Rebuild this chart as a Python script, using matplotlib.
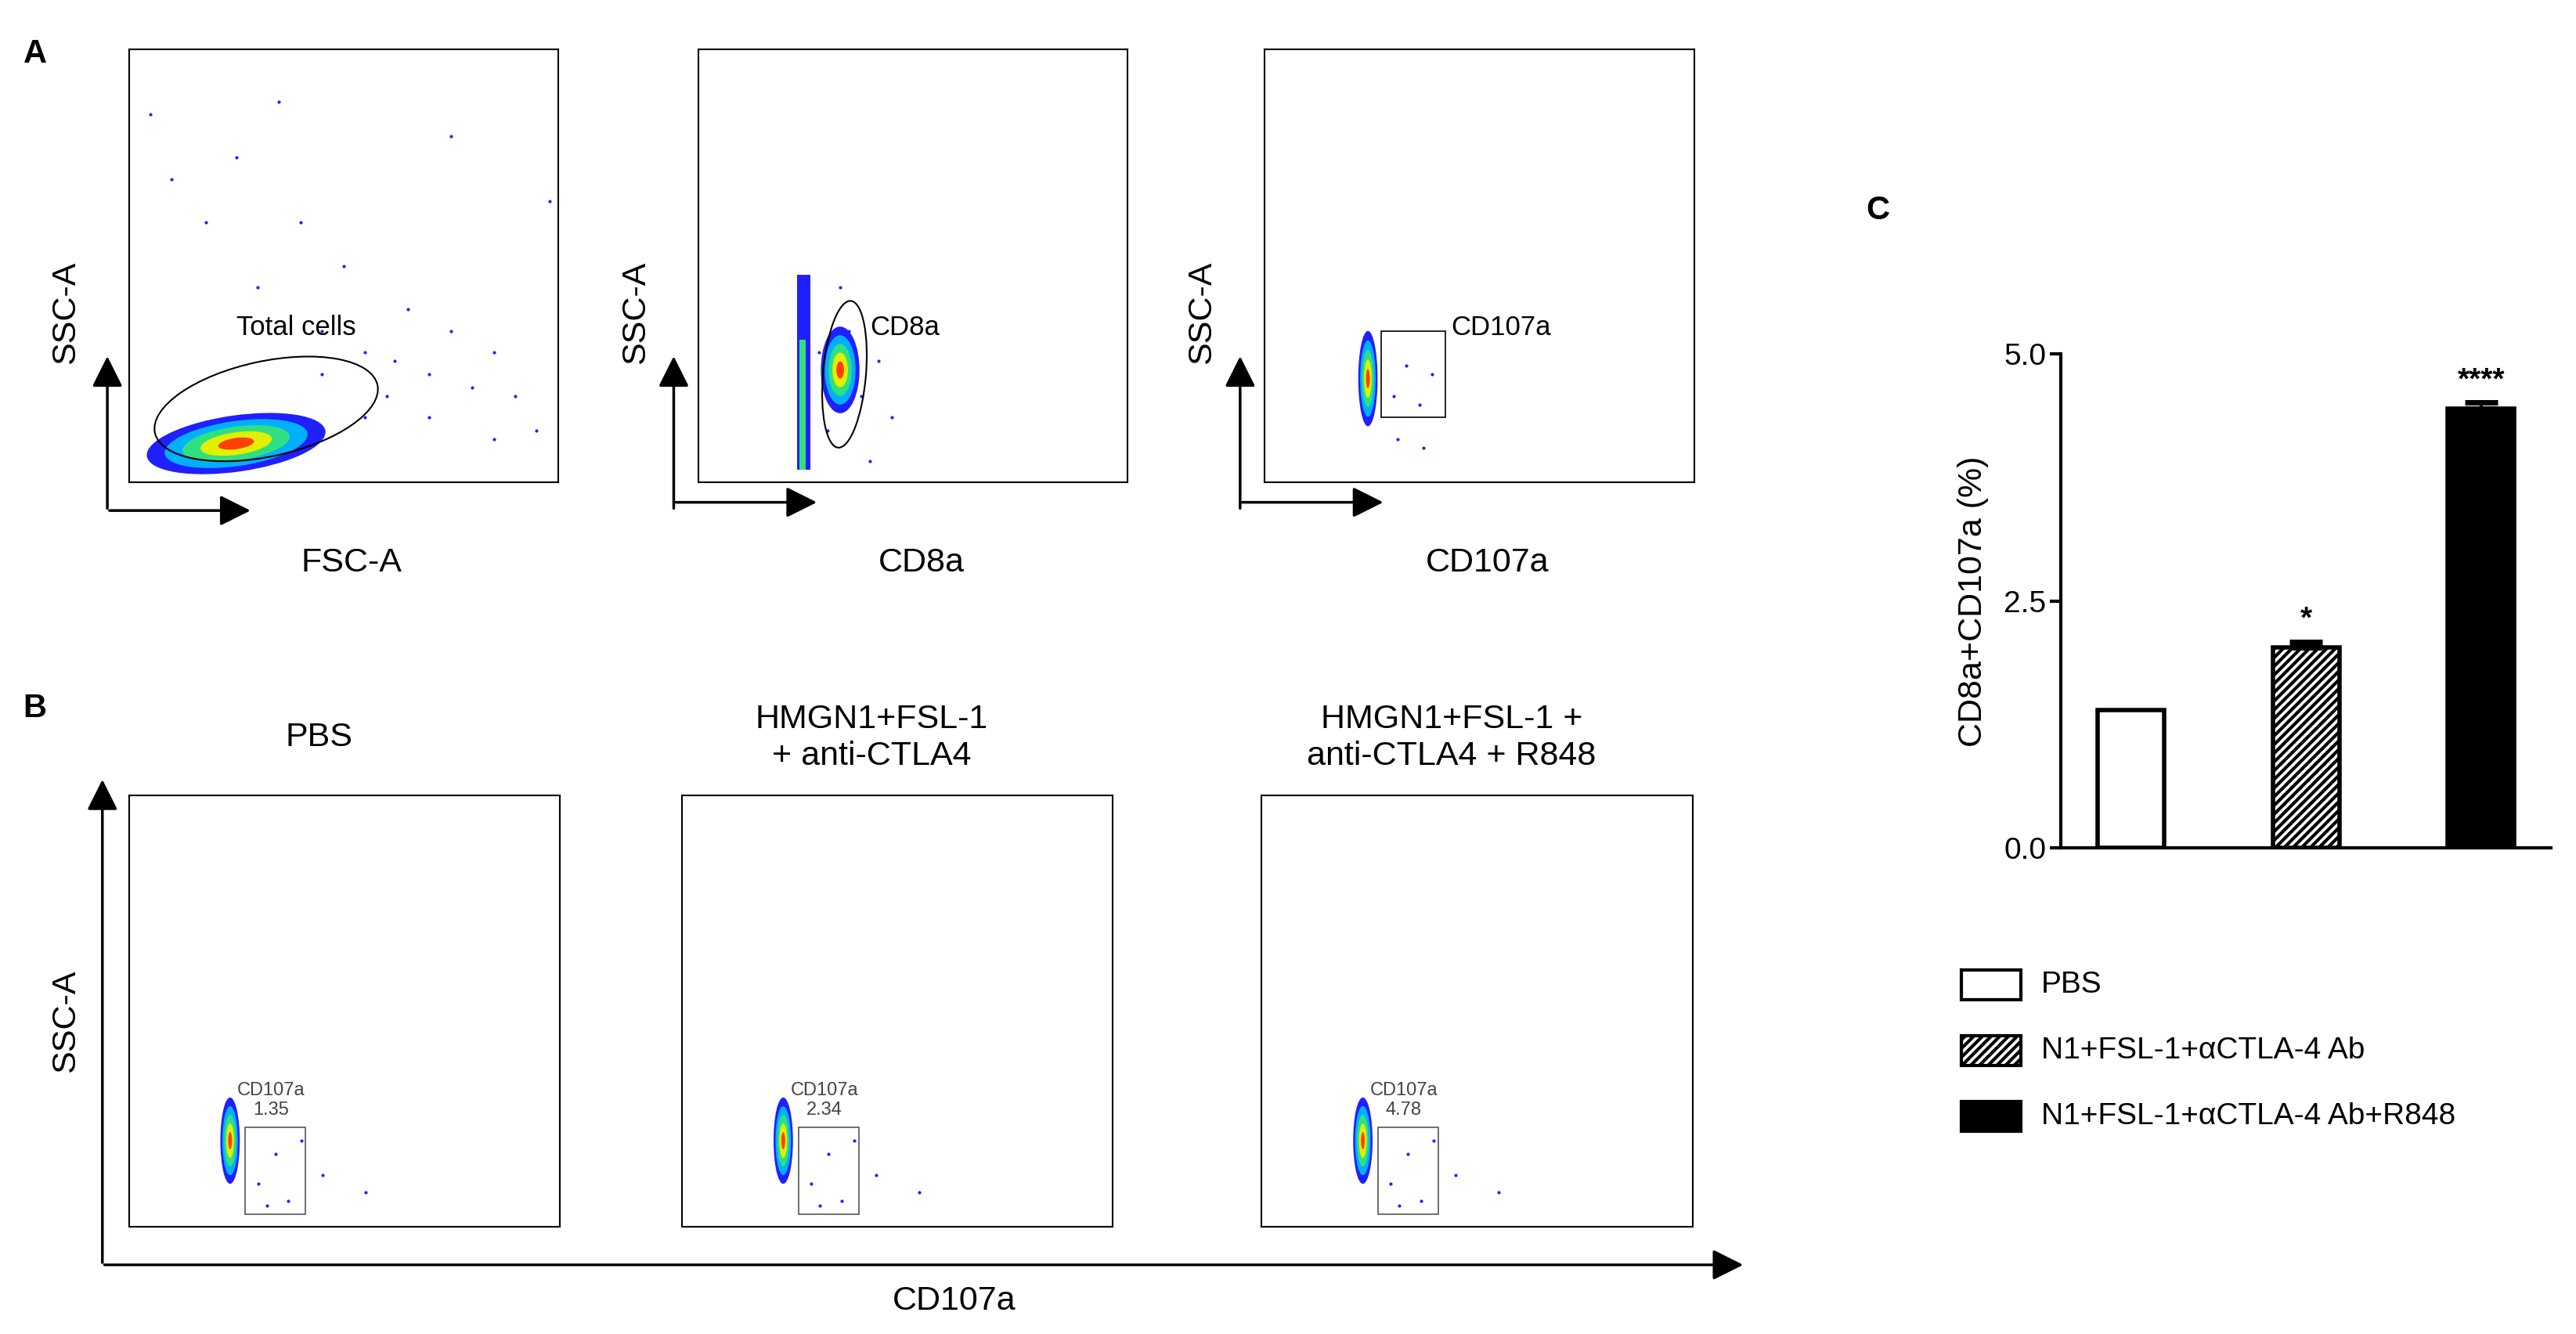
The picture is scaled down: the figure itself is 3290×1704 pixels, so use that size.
import matplotlib
matplotlib.use("Agg")
import matplotlib.pyplot as plt
from matplotlib.patches import Ellipse, Rectangle

plt.rcParams['font.family'] = ['Liberation Sans', 'DejaVu Sans']
plt.rcParams['hatch.linewidth'] = 3

# ---- data ----
groups = ["PBS", "N1+FSL-1+\u03b1CTLA-4 Ab", "N1+FSL-1+\u03b1CTLA-4 Ab+R848"]
values = [1.40, 2.03, 4.45]
errors = [0.0, 0.06, 0.06]
stars = ["", "*", "****"]
b_titles = ["PBS", "HMGN1+FSL-1\n+ anti-CTLA4", "HMGN1+FSL-1 +\nanti-CTLA4 + R848"]
b_pcts = ["1.35", "2.34", "4.78"]
a_xlabels = ["FSC-A", "CD8a", "CD107a"]
a_gates = ["Total cells", "CD8a", "CD107a"]
# sparse events (x, y) in axis fraction, read approximately
a1_events = [(0.05,0.85),(0.1,0.7),(0.18,0.6),(0.3,0.45),(0.45,0.35),(0.55,0.3),(0.62,0.28),(0.7,0.25),(0.8,0.22),(0.9,0.2),(0.95,0.12),(0.5,0.5),(0.65,0.4),(0.75,0.35),(0.85,0.3),(0.4,0.6),(0.25,0.75),(0.35,0.88),(0.75,0.8),(0.98,0.65),(0.6,0.2),(0.7,0.15),(0.85,0.1),(0.45,0.25),(0.55,0.15)]
a2_events = [(0.35,0.35),(0.38,0.2),(0.3,0.12),(0.4,0.05),(0.28,0.3),(0.42,0.28),(0.33,0.45),(0.45,0.15)]
gate_events = [(0.3,0.2),(0.33,0.27),(0.36,0.18),(0.39,0.25),(0.31,0.1),(0.37,0.08)]
b_events = [(0.3,0.1),(0.34,0.17),(0.37,0.06),(0.4,0.2),(0.45,0.12),(0.55,0.08),(0.32,0.05)]
heat = ['#2020ff', '#00b0ff', '#30e080', '#e0f000', '#ff4000']

W, H = 3290, 1704
fig = plt.figure(figsize=(W/100, H/100), dpi=100)

def blob(ax, cx, cy, w, h, ang=0):
    for i, c in enumerate(heat):
        f = 1 - i*0.2
        ax.add_patch(Ellipse((cx, cy), w*f, h*f, angle=ang, color=c, lw=0, zorder=2))

def flow_ax(l, t, r, b):
    ax = fig.add_axes([l/1560, 1-b/810, (r-l)/1560, (b-t)/810])
    ax.set_xlim(0, 1); ax.set_ylim(0, 1)
    ax.set_xticks([]); ax.set_yticks([])
    for s in ax.spines.values():
        s.set_linewidth(1.5)
    return ax

def arrow(x0, y0, x1, y1):
    fig.add_artist(matplotlib.patches.FancyArrowPatch((x0/1560, 1-y0/810), (x1/1560, 1-y1/810),
                   transform=fig.transFigure, arrowstyle='-|>,head_length=1.2,head_width=0.6', lw=2.5, color='black', mutation_scale=20))

LF = 31
# Panel A
lefts = [78, 423, 766]
for i, l in enumerate(lefts):
    ax = flow_ax(l, 30, l+260, 293)
    ex, ey = zip(*(a1_events if i == 0 else (a2_events if i == 1 else gate_events)))
    ax.scatter(ex, ey, s=4, color='#2020ff', zorder=1)
    if i == 0:
        blob(ax, 0.25, 0.09, 0.42, 0.13, 8)
        ax.add_patch(Ellipse((0.32, 0.17), 0.53, 0.22, angle=12, fill=False, lw=1.5, zorder=3))
        ax.text(0.39, 0.34, a_gates[i], fontsize=25, ha='center')
    elif i == 1:
        ax.add_patch(Rectangle((0.23, 0.03), 0.03, 0.45, color='#2020ff', lw=0, zorder=2))
        ax.add_patch(Rectangle((0.235, 0.03), 0.015, 0.3, color='#30e080', lw=0, zorder=2))
        blob(ax, 0.33, 0.26, 0.09, 0.2)
        ax.add_patch(Ellipse((0.34, 0.25), 0.1, 0.34, angle=-5, fill=False, lw=1.5, zorder=3))
        ax.text(0.48, 0.34, a_gates[i], fontsize=25, ha='center')
    else:
        blob(ax, 0.24, 0.24, 0.045, 0.22)
        ax.add_patch(Rectangle((0.27, 0.15), 0.15, 0.2, fill=False, lw=1.2, zorder=3))
        ax.text(0.55, 0.34, a_gates[i], fontsize=25, ha='center')
    ax0 = l - (13 if i == 0 else 15)
    arrow(ax0, 310, ax0, 215)
    arrow(ax0, 305 if i else 310, ax0+88, 305 if i else 310)
    fig.text((l-38)/1560, 1-190/810, "SSC-A", rotation=90, fontsize=LF, ha='center', va='center')
    fig.text((l+135)/1560, 1-342/810, a_xlabels[i], fontsize=LF, ha='center', va='center')

# Panel B
blefts = [78, 413, 764]
for i, l in enumerate(blefts):
    ax = flow_ax(l, 483, l+261, 745)
    ex, ey = zip(*b_events)
    ax.scatter(ex, ey, s=4, color='#2020ff', zorder=1)
    blob(ax, 0.235, 0.2, 0.045, 0.2)
    ax.add_patch(Rectangle((0.27, 0.03), 0.14, 0.2, fill=False, lw=1.2, ec='#555555', zorder=3))
    ax.text(0.33, 0.26, "CD107a\n" + b_pcts[i], fontsize=17, ha='center', color='#444444', linespacing=1.2)
    fig.text((l+115)/1560, 1-448/810, b_titles[i], fontsize=LF, ha='center', va='center', linespacing=1.2)
arrow(62, 768, 62, 472)
arrow(62, 768, 1057, 768)
fig.text(40/1560, 1-620/810, "SSC-A", rotation=90, fontsize=LF, ha='center', va='center')
fig.text(578/1560, 1-790/810, "CD107a", fontsize=LF, ha='center', va='center')

fig.text(14/1560, 1-33/810, "A", fontsize=30, fontweight='bold', va='center')
fig.text(14/1560, 1-430/810, "B", fontsize=30, fontweight='bold', va='center')
fig.text(1130/1560, 1-128/810, "C", fontsize=30, fontweight='bold', va='center')

# Panel C
axc = fig.add_axes([1248/1560, 1-515/810, (1545-1248)/1560, 300/810])
x = [0, 1, 2]
hatches = ['', '///', '']
faces = ['white', 'white', 'black']
bars = axc.bar(x, values, width=0.38, color=faces, edgecolor='black', lw=4, hatch=hatches, zorder=2)
for xi, v, e, s in zip(x, values, errors, stars):
    if e > 0:
        axc.errorbar(xi, v, yerr=[[0], [e]], color='black', lw=3, capsize=15, capthick=5, zorder=3)
    if s:
        axc.text(xi, v + e + 0.22, s, ha='center', va='center', fontsize=28, fontweight='bold')
axc.set_xlim(-0.4, 2.4)
axc.set_ylim(0, 5)
axc.set_yticks([0, 2.5, 5.0])
axc.set_yticklabels(["0.0", "2.5", "5.0"], fontsize=28)
axc.set_xticks([])
for s in ['top', 'right']:
    axc.spines[s].set_visible(False)
for s in ['left', 'bottom']:
    axc.spines[s].set_linewidth(3)
axc.tick_params(axis='y', width=3, length=10)
axc.set_ylabel("CD8a+CD107a (%)", fontsize=LF, labelpad=14)

# legend
for i, g in enumerate(groups):
    y = 598 + 40*i
    fig.add_artist(Rectangle((1188/1560, 1-(y+9)/810), 36/1560, 18/810, transform=fig.transFigure,
                             facecolor=faces[i], edgecolor='black', lw=3, hatch=hatches[i]))
    fig.text(1236/1560, 1-y/810, g, fontsize=28, va='center')

fig.savefig("out.png", dpi=100)
